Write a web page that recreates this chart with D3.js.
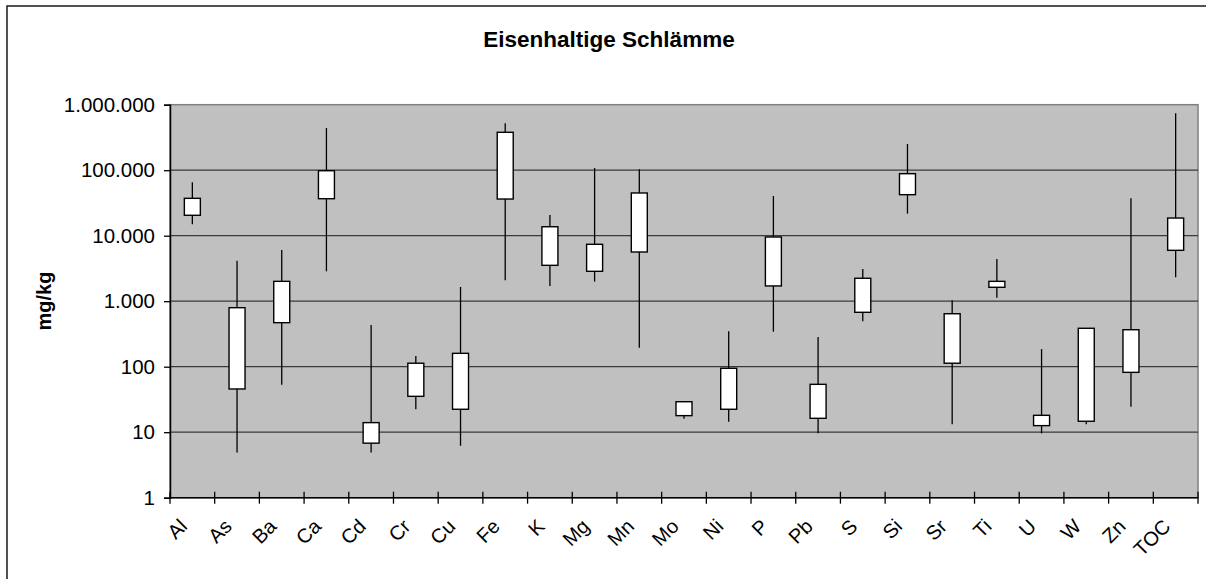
<!DOCTYPE html>
<html>
<head>
<meta charset="utf-8">
<script src="https://cdn.jsdelivr.net/npm/d3@7"></script>
<style>
  body { margin: 0; background: #fff; }
  svg { display: block; font-family: Arial, "Liberation Sans", sans-serif; }
</style>
</head>
<body>
<div id="chart"></div>
<script>
// Eisenhaltige Schlämme – Spannweite (min/max) und Quartile je Parameter, mg/kg
const categories = ["Al", "As", "Ba", "Ca", "Cd", "Cr", "Cu", "Fe", "K", "Mg", "Mn", "Mo",
                    "Ni", "P", "Pb", "S", "Si", "Sr", "Ti", "U", "W", "Zn", "TOC"];
const minVals = [14900, 4.9, 53, 2860, 4.9, 22.4, 6.2, 2090, 1710, 1990, 195, 16.1,
                 14.5, 342, 9.6, 493, 21700, 13.2, 1130, 9.6, 13.2, 24.5, 2320];
const q1Vals  = [20500, 45.7, 470, 36700, 6.8, 35.3, 22.4, 36300, 3530, 2860, 5640, 17.9,
                 22.4, 1710, 16.3, 677, 42300, 113, 1630, 12.6, 14.7, 82, 5980];
const q3Vals  = [37200, 796, 2010, 98200, 14, 113, 160, 379000, 13700, 7390, 44900, 29.2,
                 94.6, 9550, 53.8, 2240, 88500, 644, 2010, 18.1, 386, 367, 18600];
const maxVals = [65300, 4150, 6050, 441000, 433, 146, 1650, 520000, 20700, 108000, 103000, 29.5,
                 347, 40400, 284, 3100, 251000, 1030, 4410, 186, 390, 37200, 739000];
const yTicks = [1, 10, 100, 1000, 10000, 100000, 1000000];

const w = 1206;
const h = 579;
const plotL = 170, plotR = 1198, plotT = 104.7, plotB = 497.7;

const de = d3.formatLocale({decimal: ",", thousands: ".", grouping: [3], currency: ["", " €"]});
const fmt = de.format(",d");

const rows = categories.map((c, i) => ({
  cat: c, min: minVals[i], q1: q1Vals[i], q3: q3Vals[i], max: maxVals[i]
}));

const svg = d3.select("#chart")
              .append("svg")
              .attr("width", w)
              .attr("height", h);

// chart frame
svg.append("rect")
   .attr("x", 7).attr("y", 6)
   .attr("width", 1212).attr("height", 600)
   .attr("fill", "#fff")
   .attr("stroke", "#1a1a1a")
   .attr("stroke-width", 1.5);

const x = d3.scaleBand().domain(categories).range([plotL, plotR]);
const y = d3.scaleLog().domain([1, 1e6]).range([plotB, plotT]);

// plot area
svg.append("rect")
   .attr("x", plotL).attr("y", plotT)
   .attr("width", plotR - plotL).attr("height", plotB - plotT)
   .attr("fill", "#c0c0c0")
   .attr("stroke", "#808080")
   .attr("stroke-width", 1.5);

// gridlines
svg.append("g")
   .selectAll("line")
   .data(yTicks.slice(1, -1))
   .enter()
   .append("line")
   .attr("x1", plotL).attr("x2", plotR)
   .attr("y1", d => y(d)).attr("y2", d => y(d))
   .attr("stroke", "#3a3a3a")
   .attr("stroke-width", 1.2);

// y axis
const yAxis = svg.append("g")
   .attr("transform", `translate(${plotL},0)`)
   .call(d3.axisLeft(y).tickValues(yTicks).tickFormat(fmt).tickSize(6).tickPadding(9));
yAxis.select(".domain").attr("stroke", "#000").attr("stroke-width", 1.5);
yAxis.selectAll(".tick line").attr("stroke", "#000").attr("stroke-width", 1.3);
yAxis.selectAll(".tick text")
     .attr("font-size", "20.5px")
     .attr("font-family", 'Arial, "Liberation Sans", sans-serif')
     .attr("fill", "#000");

// x axis line and cross ticks at category edges
svg.append("line")
   .attr("x1", plotL).attr("x2", plotR)
   .attr("y1", plotB).attr("y2", plotB)
   .attr("stroke", "#000").attr("stroke-width", 1.5);

svg.append("g")
   .selectAll("line")
   .data(categories.map(c => x(c)).concat([plotR]))
   .enter()
   .append("line")
   .attr("x1", d => d).attr("x2", d => d)
   .attr("y1", plotB - 6).attr("y2", plotB + 6)
   .attr("stroke", "#000").attr("stroke-width", 1.3);

svg.append("g")
   .selectAll("text")
   .data(categories)
   .enter()
   .append("text")
   .attr("transform", d => `translate(${x(d) + x.bandwidth() / 2 - 4},${plotB + 30}) rotate(-45)`)
   .attr("text-anchor", "end")
   .attr("font-size", "20px")
   .attr("fill", "#000")
   .text(d => d);

// whiskers
svg.append("g")
   .selectAll("line")
   .data(rows)
   .enter()
   .append("line")
   .attr("x1", d => x(d.cat) + x.bandwidth() / 2)
   .attr("x2", d => x(d.cat) + x.bandwidth() / 2)
   .attr("y1", d => y(d.max))
   .attr("y2", d => y(d.min))
   .attr("stroke", "#000")
   .attr("stroke-width", 1.3);

// boxes
const bw = 16;
svg.append("g")
   .selectAll("rect")
   .data(rows)
   .enter()
   .append("rect")
   .attr("x", d => x(d.cat) + x.bandwidth() / 2 - bw / 2)
   .attr("y", d => y(d.q3))
   .attr("width", bw)
   .attr("height", d => y(d.q1) - y(d.q3))
   .attr("fill", "#fff")
   .attr("stroke", "#000")
   .attr("stroke-width", 1.4);

// titles
svg.append("text")
   .attr("x", 609).attr("y", 46.5)
   .attr("text-anchor", "middle")
   .attr("font-size", "22.5px")
   .attr("font-weight", "bold")
   .attr("fill", "#000")
   .text("Eisenhaltige Schlämme");

svg.append("text")
   .attr("transform", "translate(51,301) rotate(-90)")
   .attr("text-anchor", "middle")
   .attr("font-size", "20px")
   .attr("font-weight", "bold")
   .attr("fill", "#000")
   .text("mg/kg");
</script>
</body>
</html>
